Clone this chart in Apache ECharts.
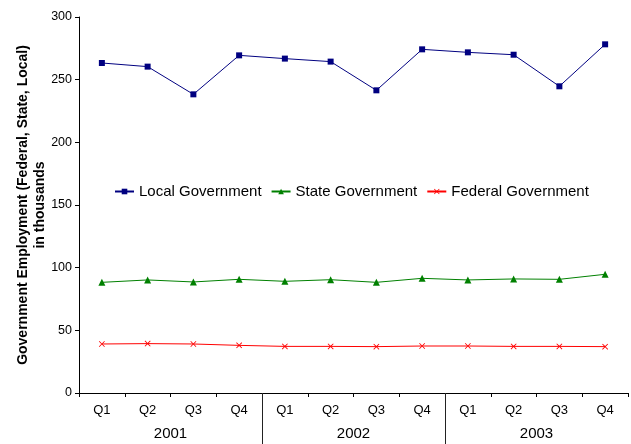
<!DOCTYPE html>
<html>
<head>
<meta charset="utf-8">
<script src="https://cdn.jsdelivr.net/npm/echarts@6/dist/echarts.min.js"></script>
<style>
  html, body { margin: 0; padding: 0; background: #fff; }
  #main { width: 631px; height: 444px; }
</style>
</head>
<body>
<div id="main"></div>
<script>
// quarters shown under the axis, years grouped below them
const quarters = ['Q1', 'Q2', 'Q3', 'Q4', 'Q1', 'Q2', 'Q3', 'Q4', 'Q1', 'Q2', 'Q3', 'Q4'];
const years = ['2001', '2002', '2003'];

// employment in thousands
const localGov = [263.3, 260.4, 238.3, 269.4, 266.8, 264.4, 241.5, 274.2, 271.8, 269.9, 244.7, 278.2];
const stateGov = [88.3, 90.2, 88.6, 90.7, 89.1, 90.4, 88.3, 91.5, 90.2, 91.0, 90.7, 94.7];
const federalGov = [39.1, 39.4, 39.1, 38.0, 37.2, 37.2, 37.0, 37.5, 37.5, 37.2, 37.2, 37.0];

const font = 'Liberation Sans, Arial, sans-serif';
const xMark = 'path://M0,1L1,0L5,4L9,0L10,1L6,5L10,9L9,10L5,6L1,10L0,9L4,5Z';

let myChart = echarts.init(document.getElementById('main'));
myChart.setOption({
    animation: false,
    textStyle: { fontFamily: font, color: '#000' },
    grid: { left: 79, right: 3, top: 17, bottom: 51, containLabel: false },
    legend: {
        left: 109,
        top: 179,
        itemWidth: 19,
        itemHeight: 7,
        itemGap: 9,
        textStyle: { fontSize: 15, color: '#000', fontFamily: font },
        data: ['Local Government', 'State Government', 'Federal Government']
    },
    xAxis: [{
        type: 'category',
        data: quarters,
        boundaryGap: true,
        axisLine: { lineStyle: { color: '#000', width: 1 } },
        axisTick: { show: true, length: 4, lineStyle: { color: '#000' } },
        axisLabel: { color: '#000', fontSize: 13, margin: 11, fontFamily: font, interval: 0 },
        splitLine: { show: false }
    }, {
        // year groups: separators and labels
        type: 'value',
        position: 'bottom',
        min: 0,
        max: 12,
        axisLine: { show: false },
        axisTick: { show: true, customValues: [4, 8], length: 51, lineStyle: { color: '#222' } },
        axisLabel: {
            show: true,
            customValues: [2, 6, 10],
            formatter: function (v) { return years[(v - 2) / 4]; },
            color: '#000',
            fontSize: 15,
            margin: 33,
            fontFamily: font
        },
        splitLine: { show: false }
    }],
    yAxis: {
        type: 'value',
        min: 0,
        max: 300,
        interval: 50,
        name: 'Government Employment (Federal, State, Local)\nin thousands',
        nameLocation: 'middle',
        nameGap: 30,
        nameMoveOverlap: false,
        nameTextStyle: { fontSize: 14, fontWeight: 'bold', color: '#000', lineHeight: 17, fontFamily: font },
        axisLine: { show: true, lineStyle: { color: '#000', width: 1 } },
        axisTick: { show: true, length: 4, lineStyle: { color: '#000' } },
        axisLabel: { color: '#000', fontSize: 12.5, margin: 7, fontFamily: font },
        splitLine: { show: false }
    },
    series: [{
        name: 'Local Government',
        type: 'line',
        data: localGov,
        symbol: 'rect',
        symbolSize: 6,
        lineStyle: { color: '#000080', width: 1 },
        itemStyle: { color: '#000080' }
    }, {
        name: 'State Government',
        type: 'line',
        data: stateGov,
        symbol: 'triangle',
        symbolSize: 7,
        lineStyle: { color: '#008000', width: 1 },
        itemStyle: { color: '#008000' }
    }, {
        name: 'Federal Government',
        type: 'line',
        data: federalGov,
        symbol: xMark,
        symbolSize: 6,
        lineStyle: { color: '#ff0000', width: 1 },
        itemStyle: { color: '#ff0000' }
    }]
});
</script>
</body>
</html>
